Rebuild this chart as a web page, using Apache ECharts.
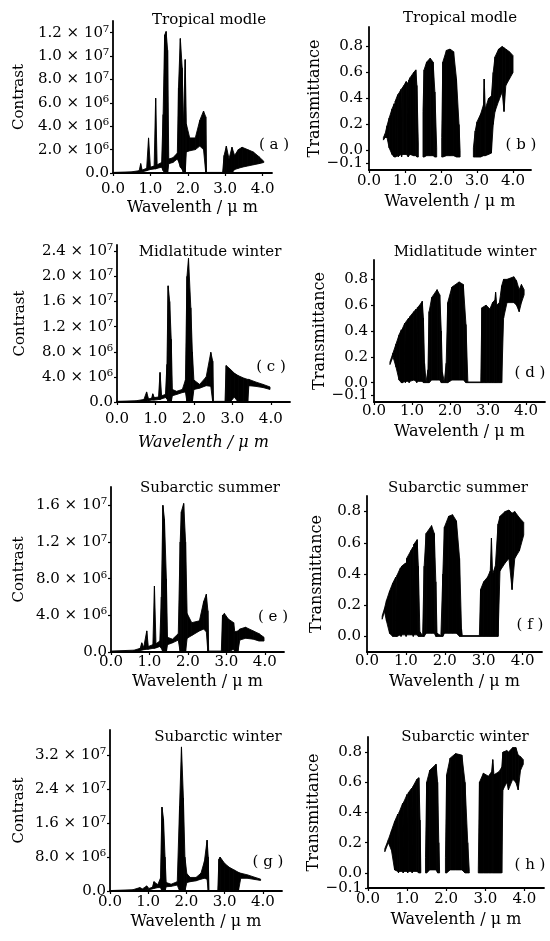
<!DOCTYPE html>
<html>
<head>
<meta charset="utf-8">
<script src="https://cdn.jsdelivr.net/npm/echarts@6/dist/echarts.min.js"></script>
<style>
  html, body { margin: 0; padding: 0; background: #fff; }
  #chart { width: 550px; height: 941px; }
</style>
</head>
<body>
<div id="chart"></div>
<script>
// each row: [wavelength (um), lower edge, upper edge]; null = gap in the trace
// contrast values in units of 1e6
var contrastTropical = [
  [0, 0, 0.05], [0.5, 0, 0.1], [0.7, 0.05, 0.2], [0.74, 0.1, 0.8], [0.78, 0.1, 0.25],
  [0.9, 0.2, 0.4], [0.95, 0.25, 3.0], [1.0, 0.3, 0.5], [1.1, 0.35, 0.6], [1.14, 0.35, 6.4],
  [1.18, 0.4, 0.7], [1.3, 0.5, 0.9], [1.34, 0.2, 5], [1.38, 0, 11.8], [1.42, 0, 12.1],
  [1.46, 0, 10.5], [1.49, 0.8, 1.2], [1.6, 0.9, 1.3], [1.72, 1.2, 1.7], [1.75, 1.0, 7.3],
  [1.8, 0.5, 11.5], [1.85, 0.3, 9], [1.88, 0, 4], [1.93, 0, 9.7], [1.96, 1.8, 4.2],
  [2.05, 1.9, 3.0], [2.2, 2.0, 3.0], [2.32, 2.3, 4.5], [2.42, 2.0, 5.3], [2.48, 0, 4.8],
  [2.5, 0, 0.05], [2.93, 0, 0.05], [2.97, 0, 1.5], [3.03, 0, 2.3], [3.1, 0, 1.2],
  [3.18, 0, 2.2], [3.25, 0.3, 1.5], [3.35, 0.4, 2.0], [3.45, 0.5, 2.2], [3.6, 0.6, 2.0],
  [3.75, 0.7, 1.8], [3.9, 0.8, 1.4], [4.03, 0.9, 1.0]
];
var contrastMidWinter = [
  [0, 0, 0.1], [0.5, 0, 0.2], [0.7, 0.1, 0.4], [0.77, 0.15, 1.6], [0.82, 0.2, 0.5],
  [0.9, 0.3, 0.6], [0.93, 0.3, 1.3], [0.97, 0.3, 0.7], [1.08, 0.4, 0.8], [1.12, 0.4, 4.7],
  [1.16, 0.5, 1.0], [1.26, 0.7, 1.2], [1.3, 0.5, 6], [1.33, 0, 18.5], [1.37, 0, 16],
  [1.41, 0, 10], [1.44, 1.0, 2], [1.55, 1.2, 1.7], [1.7, 1.5, 2.0], [1.78, 1.6, 3.5],
  [1.82, 0, 20], [1.86, 0, 22.9], [1.92, 0, 15], [1.96, 0, 8], [2.0, 2.0, 3.5],
  [2.15, 2.2, 2.8], [2.32, 2.6, 4.0], [2.44, 2.5, 7.9], [2.49, 0, 6.5], [2.51, 0, 0.1],
  [2.81, 0, 0.1], [2.84, 0, 5.8], [2.95, 0, 5.2], [3.05, 0.8, 4.6], [3.15, 0, 4.2],
  [3.3, 0, 3.8], [3.4, 0, 3.6], [3.43, 2.6, 3.6], [3.6, 2.5, 3.2], [3.8, 2.3, 2.8],
  [3.98, 2.0, 2.4]
];
var contrastSubSummer = [
  [0, 0, 0.1], [0.6, 0, 0.2], [0.76, 0.15, 0.4], [0.8, 0.2, 1.0], [0.85, 0.25, 0.5],
  [0.93, 0.3, 2.3], [0.97, 0.3, 0.6], [1.09, 0.4, 0.8], [1.13, 0.4, 7.2], [1.17, 0.45, 0.9],
  [1.27, 0.6, 1.2], [1.31, 0.4, 6], [1.35, 0, 16], [1.39, 0, 14.5], [1.44, 0, 8],
  [1.47, 0.8, 1.6], [1.6, 1.0, 1.4], [1.75, 1.3, 2], [1.8, 0, 12], [1.83, 0, 15.3],
  [1.89, 0, 16.2], [1.94, 0, 12], [1.98, 1.5, 4.2], [2.1, 1.8, 3.2], [2.3, 2.3, 3.4],
  [2.41, 2.5, 5.5], [2.48, 2.2, 6.3], [2.52, 0, 4.5], [2.54, 0, 0.1], [2.87, 0, 0.1],
  [2.9, 0, 4.0], [2.95, 0, 4.2], [3.05, 0, 3.6], [3.19, 0.3, 3.2], [3.22, 0, 2.2],
  [3.3, 0, 2.3], [3.35, 1.3, 2.5], [3.5, 1.5, 2.7], [3.7, 1.4, 2.3], [3.85, 1.2, 2.0],
  [3.98, 1.2, 1.6]
];
var contrastSubWinter = [
  [0, 0, 0.1], [0.6, 0, 0.3], [0.78, 0.2, 0.8], [0.85, 0.2, 0.5], [0.96, 0.3, 1.2],
  [1.02, 0.3, 0.6], [1.11, 0.5, 0.9], [1.15, 0.6, 2.2], [1.25, 0.8, 1.5], [1.32, 0.8, 3],
  [1.36, 0, 19.8], [1.4, 0, 17], [1.44, 0, 8], [1.47, 1.0, 2], [1.6, 1.1, 1.6],
  [1.76, 1.4, 2.2], [1.82, 0, 20], [1.87, 0, 34], [1.92, 0, 22], [1.96, 0, 8],
  [2.01, 2.0, 4.1], [2.1, 2.2, 3.2], [2.25, 2.4, 3.2], [2.38, 2.8, 4.2], [2.47, 3.0, 7],
  [2.54, 2.8, 12], [2.57, 0, 8], [2.59, 0, 0.1], [2.82, 0, 0.1], [2.85, 0, 7.5],
  [2.88, 0, 8], [3.0, 0, 6.5], [3.12, 0, 5.6], [3.24, 0, 5], [3.36, 0, 4.4],
  [3.42, 3.0, 4.2], [3.6, 3.0, 3.8], [3.8, 2.7, 3.2], [3.94, 2.5, 2.8]
];

var transTropical = [
  [0.4, 0.08, 0.1], [0.45, 0.1, 0.13], [0.5, 0.1, 0.19], [0.56, 0.02, 0.25], [0.64, -0.03, 0.32],
  [0.7, -0.05, 0.36], [0.715, -0.05, 0.1], [0.73, -0.05, 0.38], [0.8, -0.04, 0.43], [0.815, -0.05, 0.15],
  [0.83, -0.04, 0.44], [0.89, -0.03, 0.47], [0.905, -0.05, 0.05], [0.92, -0.03, 0.48], [0.97, -0.03, 0.5],
  [1.03, -0.03, 0.53], [1.075, -0.04, 0.52], [1.09, -0.05, 0.05], [1.105, -0.04, 0.54], [1.14, -0.03, 0.56],
  [1.24, -0.04, 0.6], [1.3, -0.04, 0.62], [1.33, -0.05, 0.5], [1.37, -0.05, 0.05],
  null,
  [1.5, -0.05, 0.3], [1.53, -0.05, 0.62], [1.6, -0.04, 0.68], [1.7, -0.04, 0.71], [1.78, -0.04, 0.68],
  [1.83, -0.05, 0.45], [1.88, -0.05, 0.02],
  null,
  [2.02, -0.05, 0.1], [2.05, -0.05, 0.68], [2.15, -0.04, 0.77], [2.25, -0.04, 0.78], [2.35, -0.04, 0.76],
  [2.43, -0.05, 0.55], [2.5, -0.05, 0.2], [2.53, -0.05, 0],
  null,
  [2.9, -0.05, 0.02], [2.95, -0.05, 0.15], [3.0, -0.05, 0.22], [3.1, -0.05, 0.28], [3.18, -0.04, 0.35],
  [3.2, -0.04, 0.55], [3.23, -0.04, 0.32], [3.32, -0.03, 0.4], [3.4, -0.02, 0.42], [3.45, 0.2, 0.6],
  [3.5, 0.3, 0.72], [3.6, 0.38, 0.78], [3.7, 0.45, 0.8], [3.75, 0.3, 0.79], [3.8, 0.5, 0.78],
  [3.9, 0.55, 0.76], [4.0, 0.6, 0.73]
];
var transMidWinter = [
  [0.42, 0.14, 0.16], [0.5, 0.2, 0.23], [0.58, 0.12, 0.3], [0.66, 0.02, 0.37], [0.72, 0, 0.41],
  [0.735, 0, 0.1], [0.75, 0, 0.42], [0.81, 0.01, 0.46], [0.825, 0, 0.15], [0.84, 0.01, 0.47],
  [0.91, 0.01, 0.5], [0.925, 0, 0.1], [0.94, 0.01, 0.51], [1.05, 0.02, 0.55], [1.11, 0.01, 0.57],
  [1.125, 0, 0.1], [1.14, 0.01, 0.58], [1.2, 0.01, 0.6], [1.27, 0.01, 0.63], [1.3, 0, 0.5],
  [1.33, 0, 0.15], [1.37, 0, 0.005], [1.42, 0, 0.1], [1.45, 0, 0.55],
  [1.52, 0.02, 0.66], [1.66, 0.02, 0.72], [1.73, 0.02, 0.68], [1.77, 0, 0.4], [1.8, 0, 0.08],
  [1.85, 0, 0.005], [1.9, 0, 0.15], [1.94, 0, 0.62], [2.05, 0.02, 0.74], [2.24, 0.02, 0.78],
  [2.35, 0.02, 0.76], [2.42, 0, 0.45], [2.47, 0, 0.005], [2.81, 0, 0.005], [2.84, 0, 0.58],
  [2.95, 0, 0.6], [3.05, 0, 0.57], [3.12, 0, 0.62], [3.18, 0, 0.64], [3.2, 0, 0.7],
  [3.23, 0, 0.6], [3.3, 0, 0.62], [3.36, 0, 0.75], [3.41, 0.5, 0.8], [3.5, 0.62, 0.8],
  [3.68, 0.62, 0.82], [3.75, 0.6, 0.79], [3.82, 0.55, 0.72], [3.88, 0.62, 0.76], [3.95, 0.68, 0.72]
];
var transSubSummer = [
  [0.39, 0.11, 0.13], [0.45, 0.16, 0.18], [0.5, 0.1, 0.23], [0.58, 0.02, 0.29], [0.66, 0, 0.34],
  [0.74, 0, 0.38], [0.755, 0, 0.1], [0.77, 0, 0.39], [0.86, 0.01, 0.44], [0.875, 0, 0.12],
  [0.89, 0.01, 0.45], [0.99, 0.01, 0.47], [1.005, 0, 0.1], [1.02, 0.01, 0.5], [1.13, 0.01, 0.55],
  [1.175, 0.01, 0.57], [1.19, 0, 0.15], [1.205, 0.01, 0.59], [1.29, 0.01, 0.62], [1.32, 0, 0.45],
  [1.36, 0, 0.03], [1.43, 0, 0.005], [1.47, 0, 0.45], [1.52, 0.02, 0.66], [1.66, 0.02, 0.71],
  [1.73, 0.02, 0.66], [1.77, 0, 0.35], [1.8, 0, 0.02], [1.9, 0, 0.005], [1.95, 0, 0.4],
  [1.99, 0.02, 0.7], [2.1, 0.02, 0.77], [2.2, 0.02, 0.78], [2.3, 0.02, 0.74], [2.38, 0, 0.5],
  [2.43, 0, 0.05], [2.45, 0, 0.005], [2.89, 0, 0.005], [2.92, 0, 0.3], [3.0, 0, 0.35],
  [3.1, 0, 0.38], [3.17, 0, 0.42], [3.2, 0, 0.63], [3.23, 0, 0.4], [3.3, 0, 0.45],
  [3.37, 0, 0.72], [3.42, 0.42, 0.77], [3.55, 0.47, 0.8], [3.65, 0.5, 0.81], [3.73, 0.3, 0.79],
  [3.8, 0.5, 0.8], [3.92, 0.55, 0.76], [4.03, 0.65, 0.73]
];
var transSubWinter = [
  [0.43, 0.14, 0.16], [0.52, 0.2, 0.22], [0.6, 0.15, 0.28], [0.68, 0.02, 0.34], [0.765, 0.01, 0.39],
  [0.78, 0, 0.1], [0.795, 0.01, 0.4], [0.885, 0.01, 0.46], [0.9, 0, 0.12], [0.915, 0.01, 0.47],
  [1.0, 0.01, 0.52], [1.015, 0, 0.15], [1.03, 0.01, 0.53], [1.115, 0.01, 0.56], [1.13, 0, 0.12],
  [1.145, 0.01, 0.57], [1.25, 0.01, 0.62], [1.3, 0, 0.63], [1.33, 0, 0.35], [1.35, 0, 0.02],
  null,
  [1.47, 0, 0.1], [1.5, 0, 0.6], [1.58, 0.02, 0.68], [1.74, 0.02, 0.72], [1.78, 0, 0.6],
  [1.81, 0, 0.2], [1.83, 0, 0.01],
  null,
  [1.98, 0, 0.1], [2.01, 0, 0.65], [2.1, 0.02, 0.76], [2.24, 0.02, 0.79], [2.4, 0.02, 0.78],
  [2.48, 0, 0.6], [2.55, 0, 0.2], [2.59, 0, 0.01],
  null,
  [2.82, 0, 0.02], [2.85, 0, 0.6], [2.95, 0, 0.66], [3.08, 0, 0.64], [3.16, 0, 0.67],
  [3.19, 0, 0.75], [3.22, 0, 0.65], [3.35, 0, 0.67], [3.42, 0, 0.7], [3.45, 0.55, 0.8],
  [3.55, 0.6, 0.81], [3.59, 0.55, 0.8], [3.7, 0.62, 0.83], [3.78, 0.6, 0.83], [3.84, 0.55, 0.78],
  [3.9, 0.68, 0.77], [3.97, 0.72, 0.75]
];

// tick values and labels
var wlTicks = [0, 1, 2, 3, 4];
var wlLabels = ['0.0', '1.0', '2.0', '3.0', '4.0'];
var ticksA = [0, 2, 4, 6, 8, 10, 12];
var labelsA = ['0.0', '2.0 × 10⁶', '4.0 × 10⁶', '6.0 × 10⁶', '8.0 × 10⁷', '1.0 × 10⁷', '1.2 × 10⁷'];
var ticksC = [0, 4, 8, 12, 16, 20, 24];
var labelsC = ['0.0', '4.0 × 10⁶', '8.0 × 10⁶', '1.2 × 10⁷', '1.6 × 10⁷', '2.0 × 10⁷', '2.4 × 10⁷'];
var ticksE = [0, 4, 8, 12, 16];
var labelsE = ['0.0', '4.0 × 10⁶', '8.0 × 10⁶', '1.2 × 10⁷', '1.6 × 10⁷'];
var ticksG = [0, 8, 16, 24, 32];
var labelsG = ['0.0', '8.0 × 10⁶', '1.6 × 10⁷', '2.4 × 10⁷', '3.2 × 10⁷'];
// -0.1 listed in the middle so the axis does not drop it next to 0.0
var transTicks = [0, 0.2, -0.1, 0.4, 0.6, 0.8];
var transLabels = ['0.0', '0.2', '−0.1', '0.4', '0.6', '0.8'];
var transTicksF = [0, 0.2, 0.4, 0.6, 0.8];
var transLabelsF = ['0.0', '0.2', '0.4', '0.6', '0.8'];

var FONT = '"DejaVu Serif", serif';

var panels = [
  { title: 'Tropical modle', tag: '( a )', data: contrastTropical, yName: 'Contrast',
    yTicks: ticksA, yLabels: labelsA, yMin: 0, yMax: 13, xMax: 4.25,
    grid: { left: 113, top: 21, width: 159, height: 152 },
    yNameGap: 86, yLabelMargin: 4, xLabelMargin: 9, xNameGap: 27, titlePos: [209, 20], tagPos: [274, 145] },
  { title: 'Tropical modle', tag: '( b )', data: transTropical, yName: 'Transmittance',
    yTicks: transTicks, yLabels: transLabels, yMin: -0.15, yMax: 0.95, xMax: 4.5,
    grid: { left: 369, top: 27, width: 162, height: 143 },
    yNameGap: 40, yLabelMargin: 6, xLabelMargin: 4, xNameGap: 24, titlePos: [460, 18], tagPos: [521, 145] },
  { title: 'Midlatitude winter', tag: '( c )', data: contrastMidWinter, yName: 'Contrast',
    yTicks: ticksC, yLabels: labelsC, yMin: 0, yMax: 25, xMax: 4.5, italic: true,
    grid: { left: 117, top: 245, width: 173, height: 157 },
    yNameGap: 89, yLabelMargin: 4, xLabelMargin: 10, xNameGap: 33, titlePos: [210, 252], tagPos: [271, 367] },
  { title: 'Midlatitude winter', tag: '( d )', data: transMidWinter, yName: 'Transmittance',
    yTicks: transTicks, yLabels: transLabels, yMin: -0.15, yMax: 0.95, xMax: 4.5,
    grid: { left: 374, top: 260, width: 171, height: 142 },
    yNameGap: 37, yLabelMargin: 6, xLabelMargin: 2, xNameGap: 22, titlePos: [465, 252], tagPos: [530, 373] },
  { title: 'Subarctic summer', tag: '( e )', data: contrastSubSummer, yName: 'Contrast',
    yTicks: ticksE, yLabels: labelsE, yMin: 0, yMax: 18, xMax: 4.5,
    grid: { left: 111, top: 487, width: 173, height: 165 },
    yNameGap: 84, yLabelMargin: 4, xLabelMargin: 3, xNameGap: 22, titlePos: [210, 488], tagPos: [273, 617] },
  { title: 'Subarctic summer', tag: '( f )', data: transSubSummer, yName: 'Transmittance',
    yTicks: transTicksF, yLabels: transLabelsF, yMin: -0.1, yMax: 0.9, xMax: 4.5,
    grid: { left: 367, top: 496, width: 175, height: 156 },
    yNameGap: 42, yLabelMargin: 6, xLabelMargin: 2, xNameGap: 22, titlePos: [458, 488], tagPos: [530, 625] },
  { title: 'Subarctic winter', tag: '( g )', data: contrastSubWinter, yName: 'Contrast',
    yTicks: ticksG, yLabels: labelsG, yMin: 0, yMax: 38, xMax: 4.5,
    grid: { left: 110, top: 730, width: 172, height: 161 },
    yNameGap: 83, yLabelMargin: 4, xLabelMargin: 4, xNameGap: 23, titlePos: [218, 737], tagPos: [268, 862] },
  { title: 'Subarctic winter', tag: '( h )', data: transSubWinter, yName: 'Transmittance',
    yTicks: transTicks, yLabels: transLabels, yMin: -0.1, yMax: 0.9, xMax: 4.5,
    grid: { left: 368, top: 737, width: 176, height: 151 },
    yNameGap: 46, yLabelMargin: 6, xLabelMargin: 4, xNameGap: 24, titlePos: [465, 737], tagPos: [530, 865] }
];

// split a trace into quads between neighbouring rows
function toPieces(rows) {
  var out = [];
  for (var i = 0; i < rows.length - 1; i++) {
    var a = rows[i], b = rows[i + 1];
    if (!a || !b) continue;
    out.push([a[0], a[1], a[2], b[0], b[1], b[2]]);
  }
  return out;
}

function labelFor(ticks, labels) {
  return function (v) {
    for (var i = 0; i < ticks.length; i++) {
      if (Math.abs(ticks[i] - v) < 1e-9) return labels[i];
    }
    return '';
  };
}

function renderBand(params, api) {
  var p1 = api.coord([api.value(0), api.value(1)]);
  var p2 = api.coord([api.value(0), api.value(2)]);
  var p3 = api.coord([api.value(3), api.value(5)]);
  var p4 = api.coord([api.value(3), api.value(4)]);
  return {
    type: 'polygon',
    shape: { points: [p1, p2, p3, p4] },
    style: { fill: '#000', stroke: '#000', lineWidth: 0.9 }
  };
}

var grids = [], xAxes = [], yAxes = [], series = [], graphics = [];
panels.forEach(function (p, i) {
  grids.push(p.grid);
  xAxes.push({
    type: 'value', gridIndex: i, min: 0, max: p.xMax,
    name: 'Wavelenth / μ m', nameLocation: 'middle', nameGap: p.xNameGap,
    nameTextStyle: { fontFamily: FONT, fontSize: 16, color: '#000', fontStyle: p.italic ? 'italic' : 'normal' },
    axisLine: { show: true, onZero: false, lineStyle: { color: '#000', width: 1.8 } },
    axisTick: { show: true, length: 3, customValues: wlTicks, lineStyle: { color: '#000', width: 1.2 } },
    axisLabel: { customValues: wlTicks, formatter: labelFor(wlTicks, wlLabels), margin: p.xLabelMargin,
      showMinLabel: true, showMaxLabel: true, hideOverlap: false,
      fontFamily: FONT, fontSize: 15, color: '#000' },
    splitLine: { show: false }
  });
  yAxes.push({
    type: 'value', gridIndex: i, min: p.yMin, max: p.yMax,
    name: p.yName, nameLocation: 'middle', nameGap: p.yNameGap,
    nameTextStyle: { fontFamily: FONT, fontSize: p.yName === 'Contrast' ? 15 : 16, color: '#000' },
    axisLine: { show: true, onZero: false, lineStyle: { color: '#000', width: 1.8 } },
    axisTick: { show: true, length: 3, customValues: p.yTicks, lineStyle: { color: '#000', width: 1.2 } },
    axisLabel: { customValues: p.yTicks, formatter: labelFor(p.yTicks, p.yLabels), margin: p.yLabelMargin,
      hideOverlap: false, fontFamily: FONT, fontSize: 15, color: '#000' },
    splitLine: { show: false }
  });
  series.push({
    type: 'custom', xAxisIndex: i, yAxisIndex: i, clip: true, silent: true,
    renderItem: renderBand,
    encode: { x: [0, 3], y: [1, 2, 4, 5] },
    data: toPieces(p.data)
  });
  graphics.push({
    type: 'text', x: p.titlePos[0], y: p.titlePos[1],
    style: { text: p.title, font: '15px ' + FONT, fill: '#000', align: 'center', verticalAlign: 'middle' }
  });
  graphics.push({
    type: 'text', x: p.tagPos[0], y: p.tagPos[1],
    style: { text: p.tag, font: '15px ' + FONT, fill: '#000', align: 'center', verticalAlign: 'middle' }
  });
});

var chart = echarts.init(document.getElementById('chart'));
chart.setOption({
  animation: false,
  backgroundColor: '#fff',
  grid: grids,
  xAxis: xAxes,
  yAxis: yAxes,
  series: series,
  graphic: graphics
});
</script>
</body>
</html>
